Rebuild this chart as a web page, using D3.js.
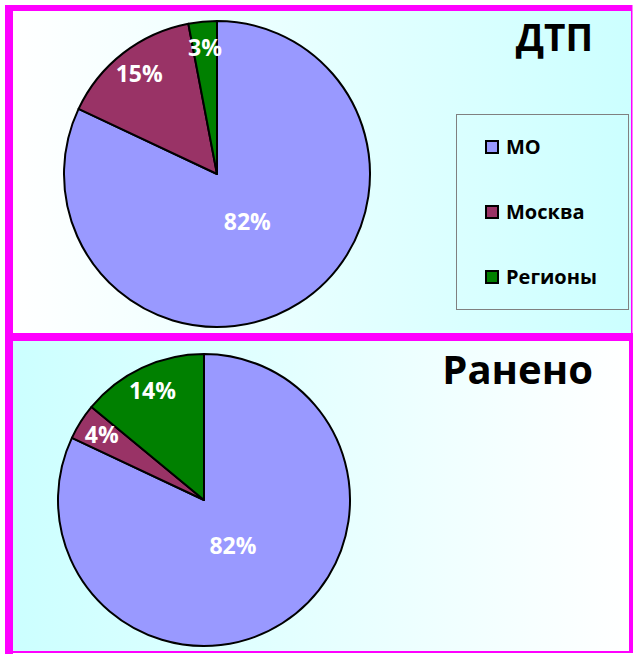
<!DOCTYPE html>
<html>
<head>
<meta charset="utf-8">
<script src="https://cdn.jsdelivr.net/npm/d3@7"></script>
<style>
  body { margin: 0; background: #fff; }
  text { font-family: "Open Sans", "DejaVu Sans", sans-serif; font-weight: bold; }
</style>
</head>
<body>
<svg id="chart" width="633" height="654"></svg>
<script>
// data
var categories = ["МО", "Москва", "Регионы"];
var dtpValues = [82, 15, 3];
var injuredValues = [82, 4, 14];
var panelTitles = ["ДТП", "Ранено"];

var svg = d3.select("#chart");
var color = d3.scaleOrdinal().domain(categories).range(["#9999ff", "#993366", "#008000"]);

var defs = svg.append("defs");
function grad(id, from, to) {
  var g = defs.append("linearGradient").attr("id", id)
    .attr("x1", 0).attr("x2", 1).attr("y1", 0).attr("y2", 0);
  g.append("stop").attr("offset", "0%").attr("stop-color", from);
  g.append("stop").attr("offset", "100%").attr("stop-color", to);
}
grad("gTop", "#ffffff", "#ccffff");
grad("gBot", "#ccffff", "#ffffff");

// panel backgrounds
svg.append("rect").attr("x", 13).attr("y", 11).attr("width", 618).attr("height", 322).attr("fill", "url(#gTop)");
svg.append("rect").attr("x", 13).attr("y", 341).attr("width", 616).attr("height", 310).attr("fill", "url(#gBot)");

// magenta frame
var frame = [
  [5, 5, 8, 649], [5, 5, 627, 6], [5, 333, 628, 8],
  [631, 5, 1.5, 330], [629, 333, 4, 320], [5, 651, 628, 2]
];
svg.selectAll("rect.frame").data(frame).enter().append("rect")
  .attr("class", "frame")
  .attr("x", function(d) { return d[0]; })
  .attr("y", function(d) { return d[1]; })
  .attr("width", function(d) { return d[2]; })
  .attr("height", function(d) { return d[3]; })
  .attr("fill", "#ff00ff");

var pie = d3.pie().sort(null).value(function(d) { return d.value; });

function drawPie(values, cx, cy, r) {
  var data = categories.map(function(c, i) { return { name: c, value: values[i] }; });
  var g = svg.append("g").attr("transform", "translate(" + cx + "," + cy + ")");
  var arc = d3.arc().innerRadius(0).outerRadius(r);
  var arcs = pie(data);

  g.selectAll("path").data(arcs).enter().append("path")
    .attr("d", arc)
    .attr("fill", function(d) { return color(d.data.name); })
    .attr("stroke", "#000")
    .attr("stroke-width", 2)
    .attr("stroke-linejoin", "round");

  g.selectAll("text").data(arcs).enter().append("text")
    .attr("transform", function(d) {
      var k = d.data.value > 50 ? 0.37 : 0.83;
      var a = (d.startAngle + d.endAngle) / 2;
      return "translate(" + (Math.sin(a) * r * k) + "," + (-Math.cos(a) * r * k) + ")";
    })
    .attr("text-anchor", "middle")
    .attr("dy", "0.36em")
    .attr("fill", "#fff")
    .style("font-size", "23px")
    .text(function(d) { return d.data.value + "%"; });
}

drawPie(dtpValues, 217, 174, 153);
drawPie(injuredValues, 204, 500, 146);

// titles
svg.append("text").attr("x", 593).attr("y", 51).attr("text-anchor", "end")
  .style("font-size", "37px").attr("fill", "#000").text(panelTitles[0]);
svg.append("text").attr("x", 593).attr("y", 384).attr("text-anchor", "end")
  .style("font-size", "40px").attr("fill", "#000").text(panelTitles[1]);

// legend
var legend = svg.append("g");
legend.append("rect").attr("x", 456.5).attr("y", 114.5).attr("width", 172).attr("height", 195)
  .attr("fill", "none").attr("stroke", "#808080").attr("stroke-width", 1);
var item = legend.selectAll("g.item").data(categories).enter().append("g")
  .attr("class", "item")
  .attr("transform", function(d, i) { return "translate(486," + (147 + i * 65) + ")"; });
item.append("rect").attr("x", 0).attr("y", -6).attr("width", 12).attr("height", 12)
  .attr("fill", function(d) { return color(d); })
  .attr("stroke", "#000").attr("stroke-width", 2);
item.append("text").attr("x", 20).attr("dy", "0.36em")
  .style("font-size", "20px").attr("fill", "#000")
  .text(function(d) { return d; });
</script>
</body>
</html>
